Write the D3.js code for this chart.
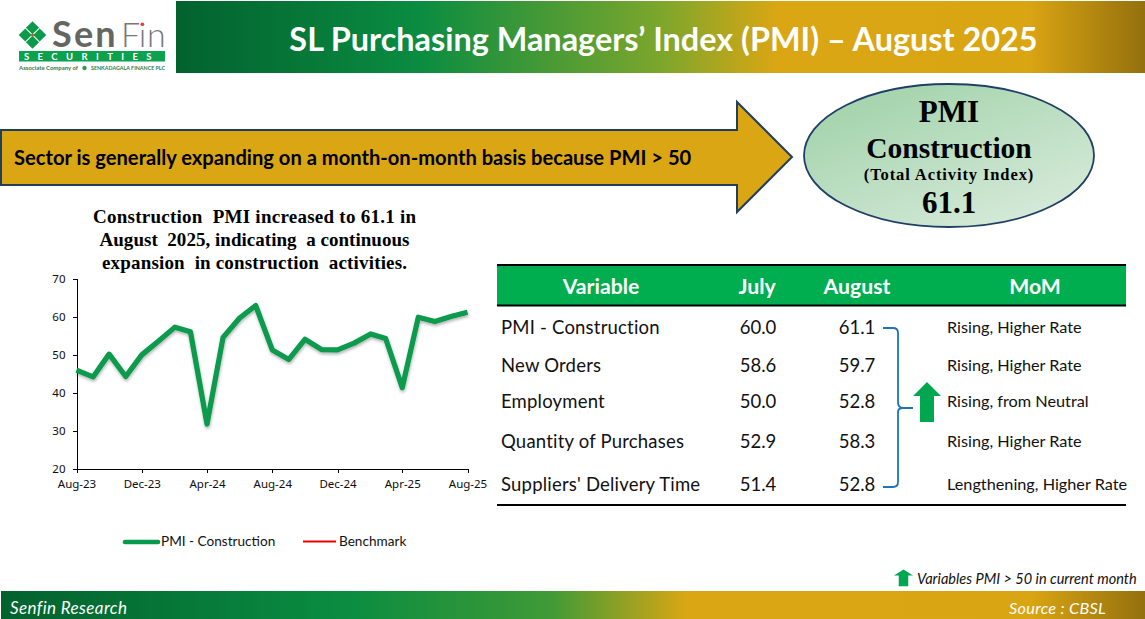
<!DOCTYPE html>
<html>
<head>
<meta charset="utf-8">
<title>SL Purchasing Managers' Index</title>
<script src="https://cdn.jsdelivr.net/npm/d3@7"></script>
<style>
  html, body { margin: 0; padding: 0; background: #fff; }
  svg { display: block; }
  text { font-family: Lato, "Noto Sans", sans-serif; }
  .serif { font-family: "Liberation Serif", serif; font-weight: 700; fill: #000; }
  .axis text { font-family: "Noto Sans", sans-serif; font-size: 11.5px; fill: #0d0d0d; }
  .axis path, .axis line { stroke: #000; stroke-width: 1; shape-rendering: crispEdges; }
</style>
</head>
<body>
<svg id="page" width="1145" height="619" viewBox="0 0 1145 619"></svg>
<script>
// Monthly PMI readings, Aug 2023 to Aug 2025
const months = ["2023-08","2023-09","2023-10","2023-11","2023-12","2024-01","2024-02","2024-03","2024-04",
  "2024-05","2024-06","2024-07","2024-08","2024-09","2024-10","2024-11","2024-12","2025-01","2025-02",
  "2025-03","2025-04","2025-05","2025-06","2025-07","2025-08"];
const pmiConstruction = [45.9,44.1,50.1,44.2,49.9,53.5,57.2,56.0,31.7,54.5,59.6,62.9,51.2,48.7,54.0,
  51.3,51.2,53.0,55.4,54.2,41.3,59.8,58.7,60.0,61.1];
const benchmark = [50, 50];
const yTicks = [20,30,40,50,60,70];
const xTickMonths = ["2023-08","2023-12","2024-04","2024-08","2024-12","2025-04","2025-08"];

// Summary table
const tableHeaders = ["Variable","July","August","MoM"];
const variables = ["PMI - Construction","New Orders","Employment","Quantity of Purchases","Suppliers' Delivery Time"];
const julyValues = [60.0,58.6,50.0,52.9,51.4];
const augustValues = [61.1,59.7,52.8,58.3,52.8];
const momNotes = ["Rising, Higher Rate","Rising, Higher Rate","Rising, from Neutral","Rising, Higher Rate","Lengthening, Higher Rate"];

const svg = d3.select("#page");
const defs = svg.append("defs");
const parseMonth = d3.timeParse("%Y-%m");

// Banner gradients for the header and footer strips
function bannerGradient(id, stops) {
  const g = defs.append("linearGradient").attr("id", id).attr("x1", 0).attr("x2", 1).attr("y1", 0).attr("y2", 0);
  stops.forEach(([o,c]) => g.append("stop").attr("offset", o).attr("stop-color", c));
}
bannerGradient("bannerTop", [[0,"#02622e"],[0.25,"#0a8c41"],[0.5,"#7ca62c"],[0.62,"#daa614"],[0.88,"#daa513"],[1,"#94700e"]]);
bannerGradient("bannerFoot", [[0,"#02622e"],[0.3,"#0a8c41"],[0.48,"#3f9a36"],[0.6,"#daa614"],[0.9,"#daa513"],[1,"#94700e"]]);

const ovalGrad = defs.append("linearGradient").attr("id", "oval").attr("x1", 0.1).attr("y1", 0.05).attr("x2", 0.85).attr("y2", 1);
ovalGrad.append("stop").attr("offset", 0).attr("stop-color", "#a0d2a9");
ovalGrad.append("stop").attr("offset", 1).attr("stop-color", "#d9ebdc");

const shadow = defs.append("filter").attr("id", "lineShadow").attr("x", "-5%").attr("y", "-20%").attr("width", "110%").attr("height", "140%");
shadow.append("feDropShadow").attr("dx", 0.5).attr("dy", 2).attr("stdDeviation", 1.4).attr("flood-color", "#000").attr("flood-opacity", 0.3);

// Header strip
svg.append("rect").attr("x", 176).attr("y", 1).attr("width", 969).attr("height", 72).attr("fill", "url(#bannerTop)");
svg.append("text").attr("x", 663.5).attr("y", 51).attr("text-anchor", "middle")
  .attr("font-size", 32.4).attr("font-weight", 700).attr("fill", "#fff")
  .text("SL Purchasing Managers\u2019 Index (PMI) \u2013 August 2025");

// Company mark
const logo = svg.append("g");
logo.append("g").attr("transform", "translate(32.5,35)").selectAll("path")
  .data([0,90,180,270]).join("path")
  .attr("transform", d => `rotate(${d})`)
  .attr("d", "M0,-13.8 L6.6,-7.2 L0,-0.8 L-6.6,-7.2 Z")
  .attr("fill", "#0b9a4a");
logo.append("circle").attr("cx", 32.5).attr("cy", 35).attr("r", 1.6).attr("fill", "#e8413a");
logo.append("text").attr("x", 52).attr("y", 47).attr("font-size", 36).attr("font-weight", 700)
  .attr("letter-spacing", "2.2px").attr("fill", "#666661").text("Sen");
logo.append("text").attr("x", "121 138.7 147").attr("y", 47).attr("font-size", 34).attr("font-weight", 300)
  .attr("fill", "#77777a").text("Fin");
logo.append("circle").attr("cx", 142.3).attr("cy", 24.3).attr("r", 1.8).attr("fill", "#e8413a");
logo.append("rect").attr("x", 19).attr("y", 51).attr("width", 146).attr("height", 10.5).attr("fill", "#0ba14f");
logo.append("text").attr("x", 92).attr("y", 60).attr("text-anchor", "middle").attr("font-size", 9.5).attr("font-weight", 700)
  .attr("letter-spacing", "8.4px").attr("fill", "#fff").text("SECURITIES");
logo.append("text").attr("x", 19).attr("y", 70).attr("font-size", 5.4).attr("font-weight", 700).attr("fill", "#2e7d4a")
  .attr("textLength", 59).attr("lengthAdjust", "spacingAndGlyphs").text("Associate Company of");
logo.append("circle").attr("cx", 84.5).attr("cy", 68).attr("r", 2.2).attr("fill", "#2e9a57");
logo.append("text").attr("x", 91).attr("y", 70).attr("font-size", 5.4).attr("font-weight", 700).attr("fill", "#2e7d4a")
  .attr("textLength", 74).attr("lengthAdjust", "spacingAndGlyphs").text("SENKADAGALA FINANCE PLC");

// Call-out arrow
svg.append("path")
  .attr("d", "M1,130 L737,130 L737,102 L792,157 L737,212 L737,185 L1,185 Z")
  .attr("fill", "#daa614").attr("stroke", "#1f3f5f").attr("stroke-width", 2);
svg.append("text").attr("x", 14).attr("y", 165).attr("font-size", 20.15).attr("font-weight", 700).attr("fill", "#000")
  .text("Sector is generally expanding on a month-on-month basis because PMI > 50");

// Headline oval
svg.append("ellipse").attr("cx", 949).attr("cy", 155.5).attr("rx", 145).attr("ry", 71.5)
  .attr("fill", "url(#oval)").attr("stroke", "#1f3f66").attr("stroke-width", 1.8);
[["PMI",122,31,0],["Construction",158,29.5,0],["(Total Activity Index)",180,16.5,0.9],["61.1",213,31,0]].forEach(([t,y,s,ls]) => {
  svg.append("text").attr("class", "serif").attr("x", 949).attr("y", y).attr("text-anchor", "middle")
    .attr("font-size", s).attr("letter-spacing", `${ls}px`).text(t);
});

// Chart commentary
[["Construction  PMI increased to 61.1 in",323],["August  2025, indicating  a continuous",310],["expansion  in construction  activities.",305]]
  .forEach(([t, w], i) => {
    svg.append("text").attr("class", "serif").attr("x", 254.5).attr("y", 223 + i * 23.2)
      .attr("text-anchor", "middle").attr("font-size", 19).attr("textLength", w).attr("lengthAdjust", "spacing")
      .attr("xml:space", "preserve").text(t);
  });

// Line chart
const plot = { left: 76.5, right: 467.5, top: 278.5, bottom: 468.5 };
const x = d3.scaleTime().domain([parseMonth(months[0]), parseMonth(months[months.length - 1])]).range([plot.left, plot.right]);
const y = d3.scaleLinear().domain([20, 70]).range([plot.bottom, plot.top]);

svg.append("g").attr("class", "axis").attr("transform", `translate(${plot.left},0)`)
  .call(d3.axisLeft(y).tickValues(yTicks).tickSize(4).tickPadding(7).tickSizeOuter(0));
svg.append("g").attr("class", "axis").attr("transform", `translate(0,${plot.bottom})`)
  .call(d3.axisBottom(x).tickValues(xTickMonths.map(parseMonth)).tickSize(4).tickPadding(7.5).tickSizeOuter(0).tickFormat(d3.timeFormat("%b-%y")));

const pmiLine = d3.line().x((d, i) => x(parseMonth(months[i]))).y(d => y(d));
svg.append("path").datum(pmiConstruction).attr("d", pmiLine).attr("fill", "none")
  .attr("stroke", "#079a4d").attr("stroke-width", 5.2).attr("stroke-linejoin", "round").attr("filter", "url(#lineShadow)");
const benchLine = d3.line().x((d, i) => i ? plot.right : plot.left).y(d => y(d));
svg.append("path").datum(benchmark).attr("d", benchLine).attr("fill", "none")
  .attr("stroke", "#f00000").attr("stroke-width", 2.4).attr("filter", "url(#lineShadow)");

// Legend
svg.append("line").attr("x1", 125).attr("x2", 158).attr("y1", 542).attr("y2", 542)
  .attr("stroke", "#079a4d").attr("stroke-width", 4.6).attr("stroke-linecap", "round");
svg.append("text").attr("x", 161).attr("y", 546).attr("font-size", 13.6).attr("fill", "#111").text("PMI - Construction");
svg.append("line").attr("x1", 303).attr("x2", 336).attr("y1", 541.5).attr("y2", 541.5).attr("stroke", "#f00000").attr("stroke-width", 2);
svg.append("text").attr("x", 339).attr("y", 546).attr("font-size", 13.6).attr("fill", "#111").text("Benchmark");

// Summary table
const tableLeft = 497, tableRight = 1126;
const rowCentres = [328, 366, 402, 442, 485];
const headerCentres = [601, 757, 857, 1035];
svg.append("rect").attr("x", tableLeft).attr("y", 265).attr("width", tableRight - tableLeft).attr("height", 40).attr("fill", "#00ae50");
[265, 305.5, 505].forEach(ly => svg.append("line").attr("x1", tableLeft).attr("x2", tableRight).attr("y1", ly).attr("y2", ly)
  .attr("stroke", "#000").attr("stroke-width", 2));
svg.selectAll(".th").data(tableHeaders).join("text").attr("class", "th")
  .attr("x", (d, i) => headerCentres[i]).attr("y", 294).attr("text-anchor", "middle")
  .attr("font-size", 21.2).attr("font-weight", 700).attr("fill", "#fff").text(d => d);

const cellStyle = sel => sel.attr("y", (d, i) => rowCentres[i] + 6).attr("fill", "#111");
svg.selectAll(".var").data(variables).join("text").attr("class", "var").attr("x", 501).attr("font-size", 18.5).attr("letter-spacing", "0.2px").call(cellStyle).text(d => d);
svg.selectAll(".jul").data(julyValues).join("text").attr("class", "jul").attr("x", 758).attr("text-anchor", "middle").attr("font-size", 18.5).call(cellStyle).text(d => d.toFixed(1));
svg.selectAll(".aug").data(augustValues).join("text").attr("class", "aug").attr("x", 857).attr("text-anchor", "middle").attr("font-size", 18.5).call(cellStyle).text(d => d.toFixed(1));
svg.selectAll(".mom").data(momNotes).join("text").attr("class", "mom").attr("x", 947).attr("font-size", 16.25).call(sel => sel.attr("y", (d, i) => rowCentres[i] + 5).attr("fill", "#111")).text(d => d);

// Right brace tying the rising variables together
svg.append("path")
  .attr("d", "M883,328 H893 Q898,328 898,333 V402 Q898,408 903,408 H913 M903,408 Q898,408 898,412 V482 Q898,487 893,487 H883")
  .attr("fill", "none").attr("stroke", "#1c75bc").attr("stroke-width", 1.8);

// Up-arrow marker, used beside the table and in the key
const upArrow = "M-14,14 L0,0 L14,14 L7,14 L7,40 L-7,40 L-7,14 Z";
svg.append("path").attr("d", upArrow).attr("transform", "translate(927,382)").attr("fill", "#00a650");
svg.append("path").attr("d", upArrow).attr("transform", "translate(903.5,569.5) scale(0.68,0.42)").attr("fill", "#00a650");
svg.append("text").attr("x", 917).attr("y", 584).attr("font-size", 14.55).attr("font-style", "italic").attr("fill", "#111")
  .text("Variables PMI > 50 in current month");

// Footer strip
svg.append("rect").attr("x", 1).attr("y", 591).attr("width", 1144).attr("height", 28).attr("fill", "url(#bannerFoot)");
svg.append("text").attr("x", 10).attr("y", 614).attr("font-size", 17).attr("font-style", "italic").attr("fill", "#fff").attr("letter-spacing", "0.4px").text("Senfin Research");
svg.append("text").attr("x", 1009).attr("y", 614).attr("font-size", 16.3).attr("font-style", "italic").attr("fill", "#fff").attr("letter-spacing", "0.3px").text("Source : CBSL");
</script>
</body>
</html>
